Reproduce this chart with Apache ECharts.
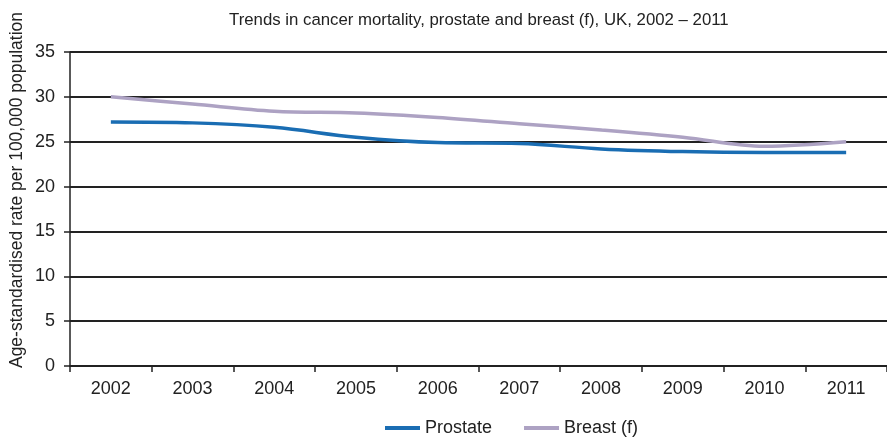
<!DOCTYPE html>
<html>
<head>
<meta charset="utf-8">
<script src="https://cdn.jsdelivr.net/npm/echarts@6/dist/echarts.min.js"></script>
<style>
  html, body { margin: 0; padding: 0; background: #fff; }
  #chart { width: 887px; height: 438px; }
</style>
</head>
<body>
<div id="chart"></div>
<script>
// Age-standardised cancer mortality, UK
const years = ['2002', '2003', '2004', '2005', '2006', '2007', '2008', '2009', '2010', '2011'];
const prostate = [27.2, 27.1, 26.6, 25.5, 24.9, 24.8, 24.2, 23.9, 23.8, 23.8];
const breastF = [30.0, 29.2, 28.4, 28.2, 27.7, 27.0, 26.3, 25.5, 24.5, 25.0];
const yTicks = [0, 5, 10, 15, 20, 25, 30, 35];
const yAxisTitle = 'Age-standardised rate per 100,000 population';

const FONT = '"Liberation Sans", Arial, Helvetica, sans-serif';
const chart = echarts.init(document.getElementById('chart'), null, { renderer: 'canvas' });

chart.setOption({
  animation: false,
  backgroundColor: '#ffffff',
  textStyle: { fontFamily: FONT },
  title: {
    text: 'Trends in cancer mortality, prostate and breast (f), UK, 2002 – 2011',
    left: 224,
    top: 7,
    textStyle: { fontFamily: FONT, fontSize: 16.8, fontWeight: 'normal', color: '#222' }
  },
  legend: {
    top: 414,
    left: 380,
    itemWidth: 35,
    itemHeight: 4,
    itemGap: 32,
    icon: 'rect',
    textStyle: { fontFamily: FONT, fontSize: 18, color: '#222' },
    data: ['Prostate', 'Breast (f)']
  },
  // rotated y-axis title, placed beside the value axis
  graphic: [{
    type: 'text',
    x: 17,
    y: 190,
    rotation: Math.PI / 2,
    style: {
      text: yAxisTitle,
      font: '17.5px ' + FONT,
      fill: '#222',
      align: 'center',
      verticalAlign: 'middle'
    }
  }],
  grid: { left: 70, top: 52, width: 821, height: 314 },
  xAxis: {
    type: 'category',
    data: years,
    boundaryGap: true,
    axisLine: { lineStyle: { color: '#222', width: 1.5 } },
    axisTick: { show: true, length: 6, lineStyle: { color: '#222', width: 1.5 } },
    axisLabel: { fontFamily: FONT, fontSize: 18, color: '#222', margin: 14 }
  },
  yAxis: {
    type: 'value',
    min: yTicks[0],
    max: yTicks[yTicks.length - 1],
    interval: 5,
    axisLine: { show: true, lineStyle: { color: '#222', width: 1.5 } },
    axisTick: { show: true, length: 6, lineStyle: { color: '#222', width: 1.5 } },
    axisLabel: { fontFamily: FONT, fontSize: 18, color: '#222', margin: 15 },
    splitLine: { show: true, lineStyle: { color: '#222', width: 2 } }
  },
  series: [
    {
      name: 'Prostate',
      type: 'line',
      data: prostate,
      smooth: 0.35,
      symbol: 'none',
      itemStyle: { color: '#1a6db3' },
      lineStyle: { color: '#1a6db3', width: 3.5 },
      z: 3
    },
    {
      name: 'Breast (f)',
      type: 'line',
      data: breastF,
      smooth: 0.35,
      symbol: 'none',
      itemStyle: { color: '#ada2c3' },
      lineStyle: { color: '#ada2c3', width: 3.5 },
      z: 4
    }
  ]
});
</script>
</body>
</html>
